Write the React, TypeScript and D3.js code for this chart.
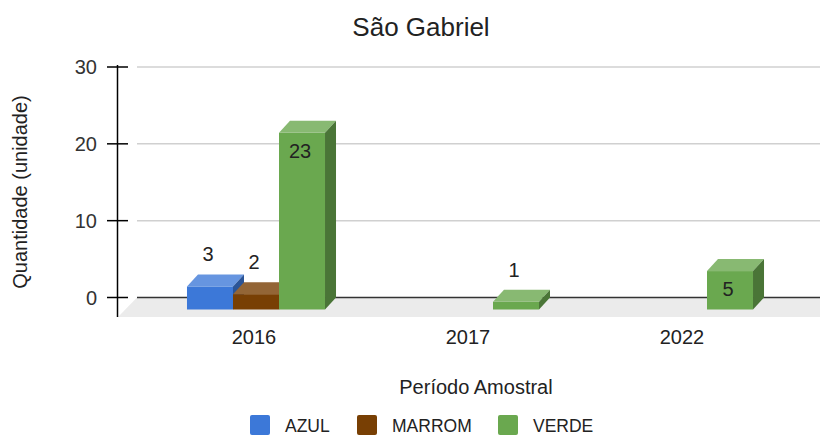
import React, { useEffect, useRef } from "react";
import * as d3 from "d3";

const years = ["2016", "2017", "2022"];
const series = ["AZUL", "MARROM", "VERDE"];
const azul = [3, 0, 0];
const marrom = [2, 0, 0];
const verde = [23, 1, 5];
const yTicks = [0, 10, 20, 30];

const faceColors: Record<string, { front: string; top: string; side: string }> = {
  AZUL: { front: "#3c78d8", top: "#6695e0", side: "#2a5497" },
  MARROM: { front: "#783f04", top: "#936536", side: "#542c03" },
  VERDE: { front: "#6aa84f", top: "#88b972", side: "#4a7537" },
};

const App = () => {
  const svgRef = useRef<SVGSVGElement>(null);

  useEffect(() => {
    const width = 820;
    const height = 435;
    const font = "Arial, 'Liberation Sans', sans-serif";
    const dx = 11; // depth offset of the 3D bars
    const dy = 12;

    const svg = d3.select(svgRef.current);
    svg.selectAll("*").remove();
    svg.attr("width", width).attr("height", height);

    const values: Record<string, number[]> = { AZUL: azul, MARROM: marrom, VERDE: verde };

    // back wall scale
    const y = d3.scaleLinear().domain([0, 30]).range([297.5, 67]);
    const yFront = (v: number) => y(v) + dy;

    const x = d3
      .scaleBand()
      .domain(years)
      .range([149, 791])
      .paddingInner(0.355)
      .paddingOuter(0.1775);
    const xSub = d3.scaleBand().domain(series).range([0, x.bandwidth()]);

    // title
    svg.append("text")
      .attr("x", 421)
      .attr("y", 36)
      .attr("text-anchor", "middle")
      .style("font-family", font)
      .style("font-size", "26px")
      .style("fill", "#222")
      .text("São Gabriel");

    // gridlines on back wall
    svg.selectAll(".grid")
      .data(yTicks.filter((t) => t !== 0))
      .join("line")
      .attr("x1", 137)
      .attr("x2", width)
      .attr("y1", (d) => y(d))
      .attr("y2", (d) => y(d))
      .style("stroke", "#d0d0d0")
      .style("stroke-width", 1.5);

    // floor
    const y0 = y(0);
    svg.append("path")
      .attr("d", `M118,317 L137,${y0} L${width},${y0} L${width},317 Z`)
      .style("fill", "#ebebeb");

    svg.append("line")
      .attr("x1", 137)
      .attr("x2", width)
      .attr("y1", y0)
      .attr("y2", y0)
      .style("stroke", "#333")
      .style("stroke-width", 1.5);

    // y axis
    svg.append("line")
      .attr("x1", 117.5)
      .attr("x2", 117.5)
      .attr("y1", 65)
      .attr("y2", 317)
      .style("stroke", "#000")
      .style("stroke-width", 1.5);

    svg.selectAll(".tick")
      .data(yTicks)
      .join("line")
      .attr("x1", 107)
      .attr("x2", 128)
      .attr("y1", (d) => y(d))
      .attr("y2", (d) => y(d))
      .style("stroke", "#000")
      .style("stroke-width", 1.5);

    svg.selectAll(".tickLabel")
      .data(yTicks)
      .join("text")
      .attr("x", 97)
      .attr("y", (d) => y(d))
      .attr("dy", "0.35em")
      .attr("text-anchor", "end")
      .style("font-family", font)
      .style("font-size", "20px")
      .style("fill", "#333")
      .text((d) => d);

    svg.append("text")
      .attr("transform", `translate(27,192) rotate(-90)`)
      .attr("text-anchor", "middle")
      .style("font-family", font)
      .style("font-size", "20px")
      .style("fill", "#222")
      .text("Quantidade (unidade)");

    // bars
    const bars = years.flatMap((yr, i) =>
      series.map((s) => ({ year: yr, series: s, value: values[s][i] }))
    ).filter((d) => d.value > 0);

    const g = svg.append("g");
    bars.forEach((d) => {
      const x0 = (x(d.year) ?? 0) + (xSub(d.series) ?? 0);
      const x1 = x0 + xSub.bandwidth();
      const top = yFront(d.value);
      const base = yFront(0);
      const c = faceColors[d.series];
      g.append("rect")
        .attr("x", x0)
        .attr("y", top)
        .attr("width", x1 - x0)
        .attr("height", base - top)
        .style("fill", c.front);
      g.append("path")
        .attr("d", `M${x0},${top} L${x0 + dx},${top - dy} L${x1 + dx},${top - dy} L${x1},${top} Z`)
        .style("fill", c.top);
      g.append("path")
        .attr("d", `M${x1},${top} L${x1 + dx},${top - dy} L${x1 + dx},${base - dy} L${x1},${base} Z`)
        .style("fill", c.side);

      const inside = base - top > 30;
      g.append("text")
        .attr("x", (x0 + x1) / 2 - 2)
        .attr("y", inside ? top + 25 : top - dy - 13)
        .attr("text-anchor", "middle")
        .style("font-family", font)
        .style("font-size", "20px")
        .style("fill", "#222")
        .text(d.value);
    });

    // x labels
    svg.selectAll(".xLabel")
      .data(years)
      .join("text")
      .attr("x", (d) => (x(d) ?? 0) + x.bandwidth() / 2 - 2)
      .attr("y", 344)
      .attr("text-anchor", "middle")
      .style("font-family", font)
      .style("font-size", "20px")
      .style("fill", "#222")
      .text((d) => d);

    svg.append("text")
      .attr("x", 476)
      .attr("y", 394)
      .attr("text-anchor", "middle")
      .style("font-family", font)
      .style("font-size", "20px")
      .style("fill", "#222")
      .text("Período Amostral");

    // legend
    const legendX = [250, 357, 498];
    const legend = svg.selectAll(".legend")
      .data(series)
      .join("g")
      .attr("transform", (d, i) => `translate(${legendX[i]},415)`);
    legend.append("rect")
      .attr("width", 20)
      .attr("height", 20)
      .attr("rx", 2)
      .style("fill", (d) => faceColors[d].front);
    legend.append("text")
      .attr("x", 35)
      .attr("y", 17)
      .style("font-family", font)
      .style("font-size", "17.5px")
      .style("fill", "#222")
      .text((d) => d);
  }, []);

  return (
    <div style={{ position: "absolute", left: 0, top: 0 }}>
      <svg ref={svgRef}></svg>
    </div>
  );
};

export default App;
